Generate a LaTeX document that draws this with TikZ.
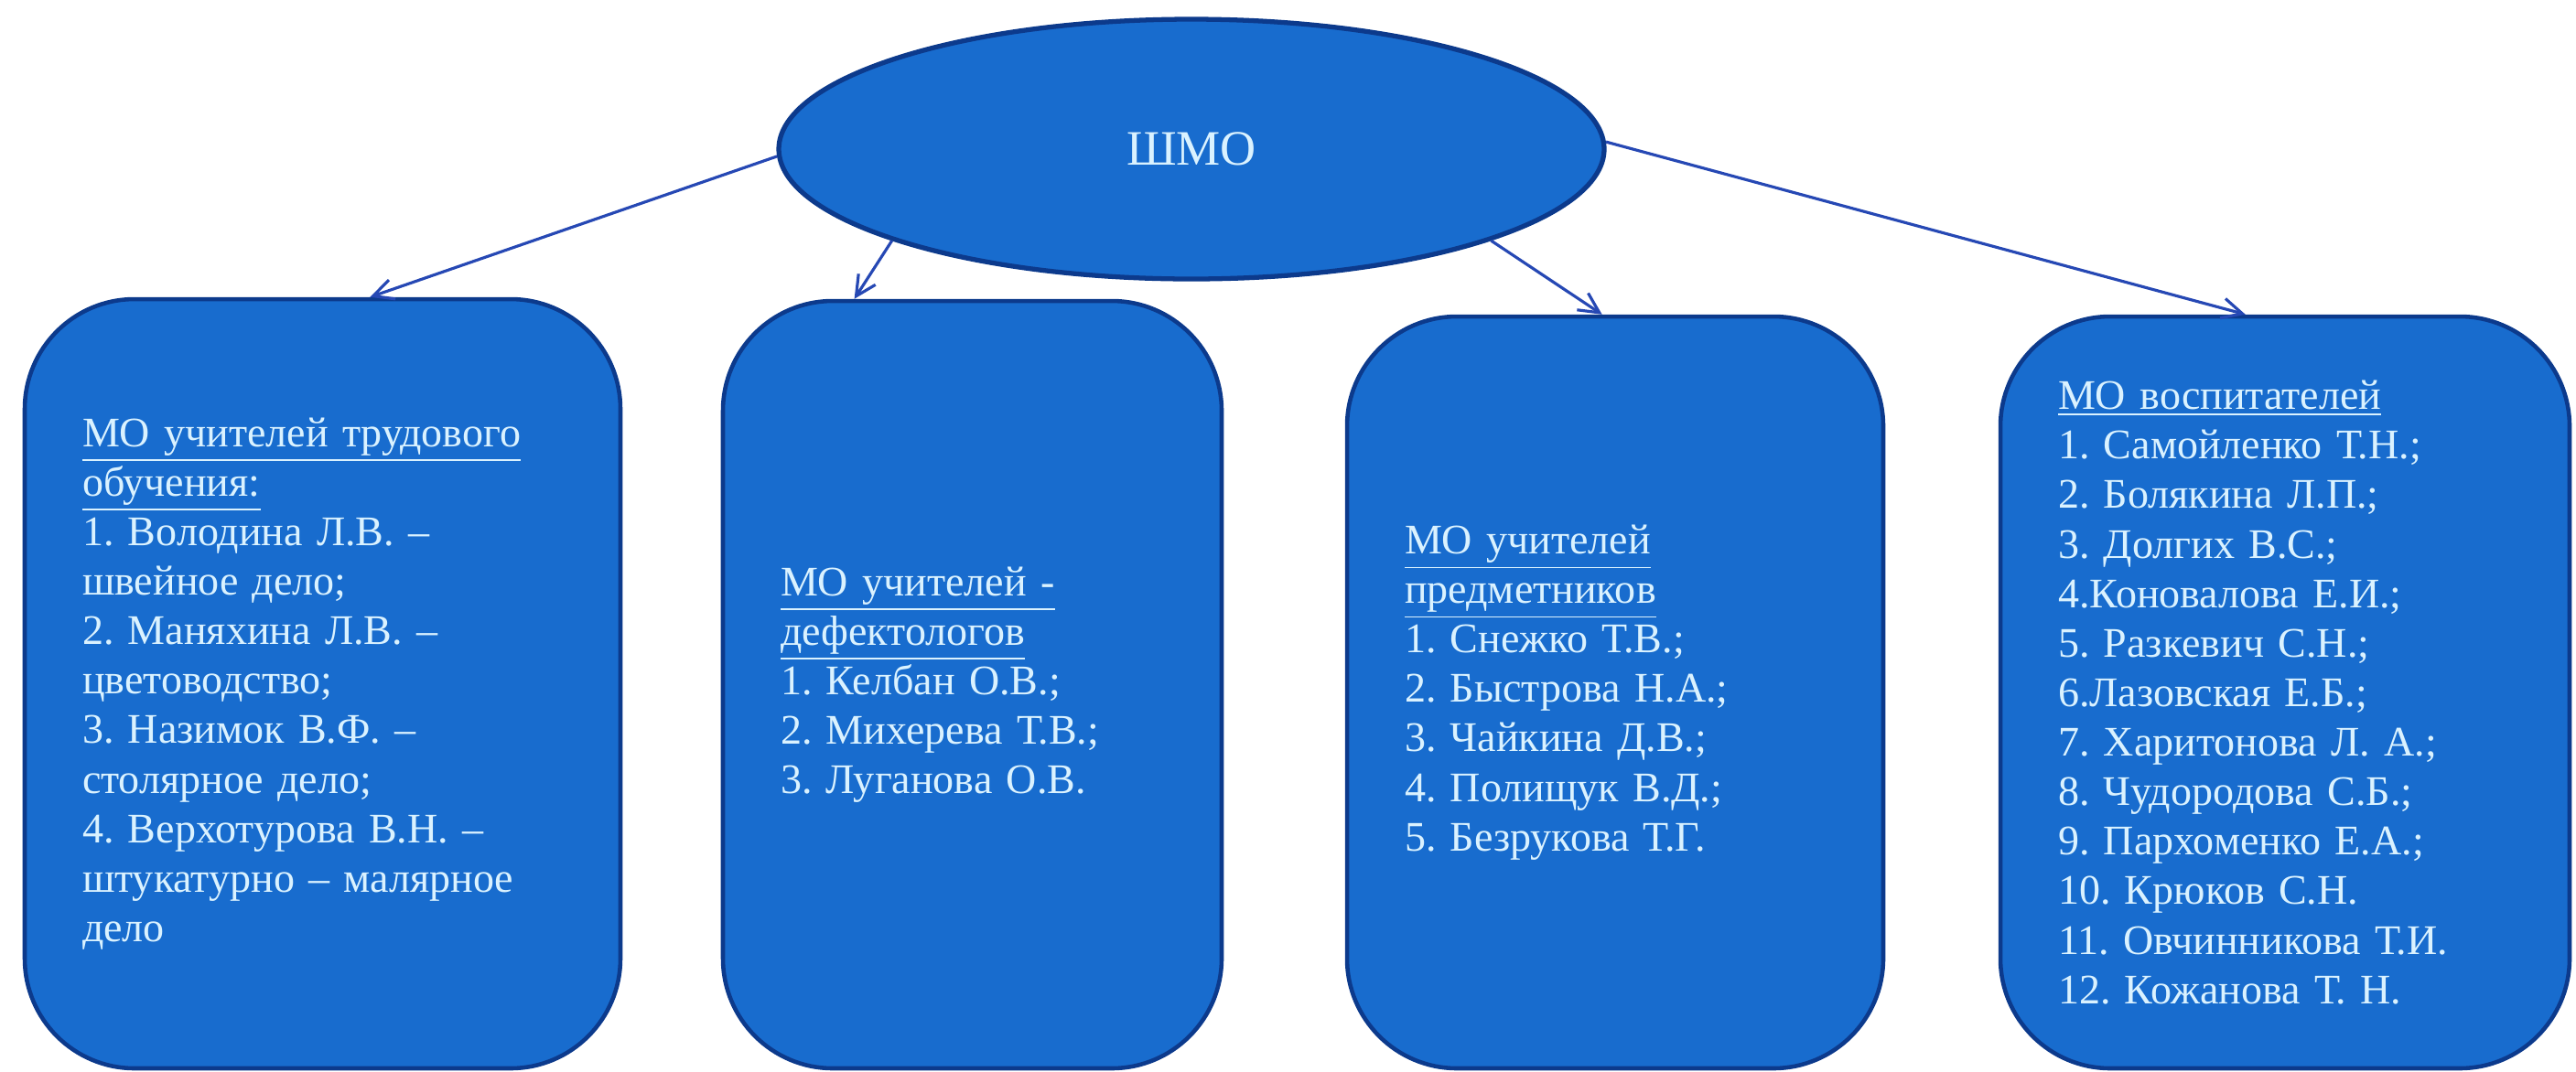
\documentclass[tikz,border=0pt]{standalone}
\usepackage{fontspec}
\setmainfont{Liberation Serif}
\usetikzlibrary{shapes.geometric,arrows.meta}
\definecolor{moblue}{RGB}{24,108,206}
\definecolor{moedge}{RGB}{12,58,140}
\definecolor{motext}{RGB}{218,242,255}
\definecolor{molink}{RGB}{38,72,180}
\frenchspacing

\begin{document}
\begin{tikzpicture}[scale=0.1,
  mobox/.style={draw=moedge, line width=1.3pt, fill=moblue, rounded corners=1.2cm,
    text=motext, align=left, inner xsep=0.63cm, inner ysep=0pt,
    font=\fontsize{13.1}{15.4}\selectfont},
  link/.style={draw=molink, line width=0.9pt, -{Straight Barb[length=0.22cm,width=0.22cm]}}]
\useasboundingbox (0,0) rectangle (281.5,-117.1);
\node [ellipse, draw=moedge, line width=1.5pt, fill=moblue, inner sep=0pt,
  minimum width=9.02cm, minimum height=2.84cm, text=motext,
  font=\fontsize{15.4}{18}\selectfont] (shmo) at (130.2,-16.3) {ШМО};

\node [mobox, text width=5.25cm, minimum height=8.41cm] (labour) at (35.25,-74.75) {%
\underline{МО учителей трудового}\\
\underline{обучения:}\\
1. Володина Л.В. –\\
швейное дело;\\
2. Маняхина Л.В. –\\
цветоводство;\\
3. Назимок В.Ф. –\\
столярное дело;\\
4. Верхотурова В.Н. –\\
штукатурно – малярное\\
дело};
\node [mobox, text width=4.19cm, minimum height=8.39cm] (defect) at (106.25,-74.85) {%
\underline{МО учителей -}\\
\underline{дефектологов}\\
1. Келбан О.В.;\\
2. Михерева Т.В.;\\
3. Луганова О.В.};
\node [mobox, text width=4.6cm, minimum height=8.22cm] (subject) at (176.5,-75.7) {%
\underline{МО учителей}\\
\underline{предметников}\\
1. Снежко Т.В.;\\
2. Быстрова Н.А.;\\
3. Чайкина Д.В.;\\
4. Полищук В.Д.;\\
5. Безрукова Т.Г.};
\node [mobox, text width=4.96cm, minimum height=8.22cm] (tutors) at (249.7,-75.7) {%
\underline{МО воспитателей}\\
1. Самойленко Т.Н.;\\
2. Болякина Л.П.;\\
3. Долгих В.С.;\\
4.Коновалова Е.И.;\\
5. Разкевич С.Н.;\\
6.Лазовская Е.Б.;\\
7. Харитонова Л. А.;\\
8. Чудородова С.Б.;\\
9. Пархоменко Е.А.;\\
10. Крюков С.Н.\\
11. Овчинникова Т.И.\\
12. Кожанова Т. Н.};

\draw [link] (shmo.181.8) -- (labour.83);
\draw [link] (shmo.197.3) -- (defect.107);
\draw [link] (shmo.343.9) -- (subject.92.4);
\draw [link] (shmo.1.1) -- (tutors.96.7);
\end{tikzpicture}
\end{document}
